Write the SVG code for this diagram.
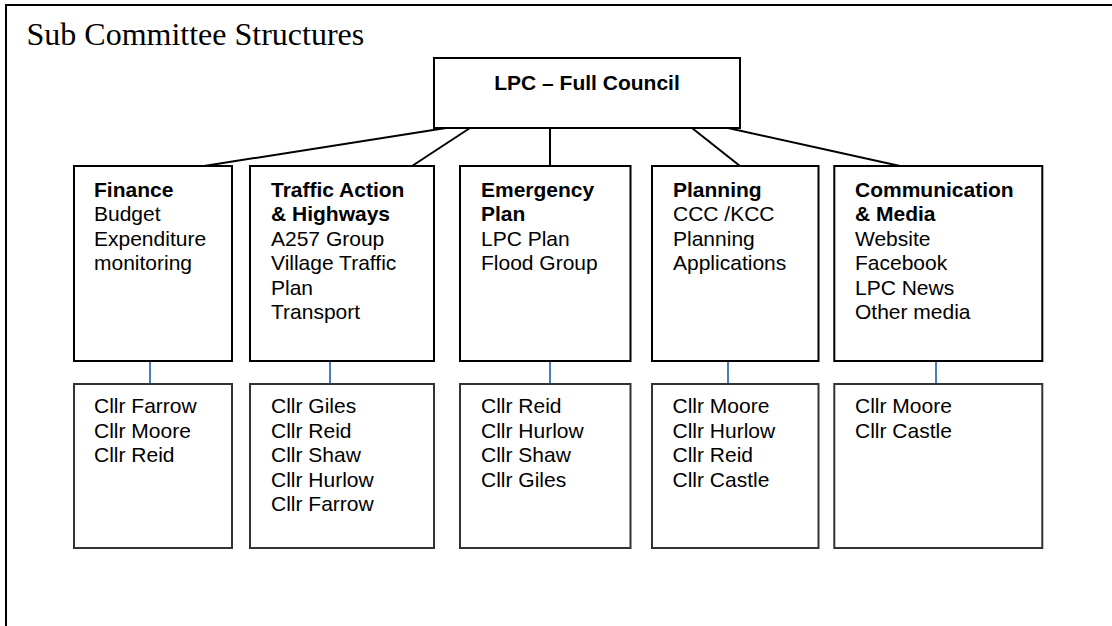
<svg xmlns="http://www.w3.org/2000/svg" width="1112" height="626" viewBox="0 0 1112 626">
<style>
.box{fill:#fff;stroke:#000;stroke-width:2}
.mbox{fill:#fff;stroke:#333;stroke-width:2}
.t{font-family:"Liberation Sans",Arial,sans-serif;font-size:21px;fill:#000}
.b{font-weight:bold}
.con{stroke:#000;stroke-width:2;fill:none}
.blue{stroke:#4a7ebb;stroke-width:2;fill:none}
</style>
<rect x="0" y="0" width="1112" height="626" fill="#fff"/>
<path d="M6,626 V5 H1112" fill="none" stroke="#000" stroke-width="2"/>
<text x="26.5" y="45" font-family="Liberation Serif,'Times New Roman',serif" font-size="32" fill="#000">Sub Committee Structures</text>

<g id="connectors">
<line class="con" x1="446" y1="128" x2="204" y2="166"/>
<line class="con" x1="470" y1="128" x2="412" y2="166"/>
<line class="con" x1="550" y1="128" x2="550" y2="166"/>
<line class="con" x1="692" y1="128" x2="740" y2="166"/>
<line class="con" x1="728" y1="128" x2="900" y2="166"/>
<line class="blue" x1="150" y1="361" x2="150" y2="384"/>
<line class="blue" x1="330" y1="361" x2="330" y2="384"/>
<line class="blue" x1="550" y1="361" x2="550" y2="384"/>
<line class="blue" x1="728" y1="361" x2="728" y2="384"/>
<line class="blue" x1="936" y1="361" x2="936" y2="384"/>
</g>

<g id="lpc">
<rect class="box" x="434" y="58" width="306" height="70"/>
<text class="t b" x="587" y="90" text-anchor="middle">LPC – Full Council</text>
</g>

<g id="finance">
<rect class="box" x="74" y="166" width="158" height="195"/>
<text class="t" x="94" y="196.7"><tspan class="b">Finance</tspan><tspan x="94" dy="24.5">Budget</tspan><tspan x="94" dy="24.5">Expenditure</tspan><tspan x="94" dy="24.5">monitoring</tspan></text>
</g>
<g id="traffic">
<rect class="box" x="250" y="166" width="184" height="195"/>
<text class="t" x="271" y="196.7"><tspan class="b">Traffic Action</tspan><tspan class="b" x="271" dy="24.5">&amp; Highways</tspan><tspan x="271" dy="24.5">A257 Group</tspan><tspan x="271" dy="24.5">Village Traffic</tspan><tspan x="271" dy="24.5">Plan</tspan><tspan x="271" dy="24.5">Transport</tspan></text>
</g>
<g id="emergency">
<rect class="box" x="460" y="166" width="170.5" height="195"/>
<text class="t" x="481" y="196.7"><tspan class="b">Emergency</tspan><tspan class="b" x="481" dy="24.5">Plan</tspan><tspan x="481" dy="24.5">LPC Plan</tspan><tspan x="481" dy="24.5">Flood Group</tspan></text>
</g>
<g id="planning">
<rect class="box" x="652" y="166" width="166.5" height="195"/>
<text class="t" x="673" y="196.7"><tspan class="b">Planning</tspan><tspan x="673" dy="24.5">CCC /KCC</tspan><tspan x="673" dy="24.5">Planning</tspan><tspan x="673" dy="24.5">Applications</tspan></text>
</g>
<g id="communication">
<rect class="box" x="834.3" y="166" width="208" height="195"/>
<text class="t" x="855" y="196.7"><tspan class="b">Communication</tspan><tspan class="b" x="855" dy="24.5">&amp; Media</tspan><tspan x="855" dy="24.5">Website</tspan><tspan x="855" dy="24.5">Facebook</tspan><tspan x="855" dy="24.5">LPC News</tspan><tspan x="855" dy="24.5">Other media</tspan></text>
</g>

<g id="finance-members">
<rect class="mbox" x="74" y="384" width="158" height="164"/>
<text class="t" x="94" y="413.3"><tspan>Cllr Farrow</tspan><tspan x="94" dy="24.5">Cllr Moore</tspan><tspan x="94" dy="24.5">Cllr Reid</tspan></text>
</g>
<g id="traffic-members">
<rect class="mbox" x="250" y="384" width="184" height="164"/>
<text class="t" x="271" y="413.3"><tspan>Cllr Giles</tspan><tspan x="271" dy="24.5">Cllr Reid</tspan><tspan x="271" dy="24.5">Cllr Shaw</tspan><tspan x="271" dy="24.5">Cllr Hurlow</tspan><tspan x="271" dy="24.5">Cllr Farrow</tspan></text>
</g>
<g id="emergency-members">
<rect class="mbox" x="460" y="384" width="170.5" height="164"/>
<text class="t" x="481" y="413.3"><tspan>Cllr Reid</tspan><tspan x="481" dy="24.5">Cllr Hurlow</tspan><tspan x="481" dy="24.5">Cllr Shaw</tspan><tspan x="481" dy="24.5">Cllr Giles</tspan></text>
</g>
<g id="planning-members">
<rect class="mbox" x="652" y="384" width="166.5" height="164"/>
<text class="t" x="672.5" y="413.3"><tspan>Cllr Moore</tspan><tspan x="672.5" dy="24.5">Cllr Hurlow</tspan><tspan x="672.5" dy="24.5">Cllr Reid</tspan><tspan x="672.5" dy="24.5">Cllr Castle</tspan></text>
</g>
<g id="communication-members">
<rect class="mbox" x="834.3" y="384" width="208" height="164"/>
<text class="t" x="855" y="413.3"><tspan>Cllr Moore</tspan><tspan x="855" dy="24.5">Cllr Castle</tspan></text>
</g>
</svg>
